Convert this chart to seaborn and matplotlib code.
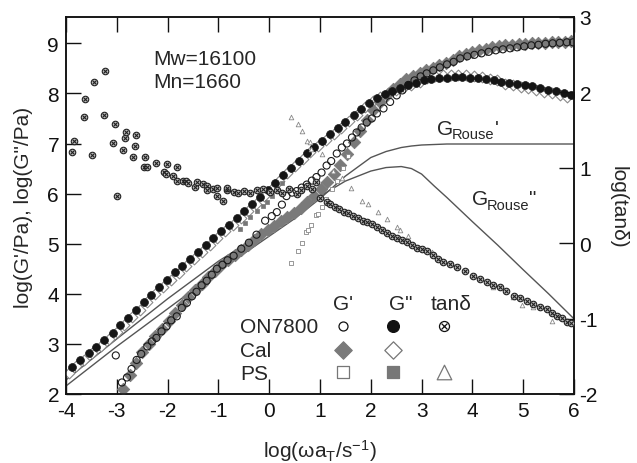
import matplotlib
matplotlib.use("Agg")
import matplotlib.pyplot as plt
import seaborn as sns

# ---------------- data ----------------
# ON7800 G'' (filled black circles)
on_g2_x = [-3.88,-3.72,-3.55,-3.40,-3.25,-3.08,-2.93,-2.78,-2.62,-2.47,-2.32,-2.17,-2.02,-1.86,-1.71,-1.56,-1.40,-1.25,-1.10,-0.95,-0.80,-0.64,-0.49,-0.34,-0.18,-0.03,0.12,0.28,0.43,0.58,0.74,0.89,1.04,1.20,1.35,1.50,1.66,1.81,1.96,2.12,2.27,2.42,2.58,2.73,2.88,3.04,3.19,3.34,3.50,3.65,3.80,3.96,4.11,4.26,4.42,4.57,4.72,4.88,5.03,5.18,5.34,5.49,5.64,5.80,5.95]
on_g2_y = [2.54,2.67,2.81,2.94,3.07,3.22,3.37,3.52,3.68,3.83,3.98,4.13,4.28,4.43,4.56,4.70,4.84,4.98,5.11,5.25,5.38,5.52,5.66,5.80,5.94,6.07,6.22,6.38,6.52,6.66,6.81,6.93,7.05,7.18,7.30,7.42,7.56,7.69,7.80,7.90,7.98,8.05,8.11,8.16,8.21,8.26,8.28,8.30,8.31,8.32,8.32,8.31,8.30,8.28,8.26,8.23,8.21,8.19,8.17,8.14,8.10,8.07,8.04,8.01,7.97]

# ON7800 G' (open circles)
on_g1_x = [-3.02,-2.90,-2.80,-2.71,-2.61,-2.52,-2.40,-2.31,-2.22,-2.12,-2.02,-1.93,-1.82,-1.72,-1.62,-1.52,-1.43,-1.33,-1.23,-1.13,-1.03,-0.92,-0.82,-0.70,-0.55,-0.40,-0.25,-0.08,0.05,0.15,0.25,0.34,0.45,0.54,0.64,0.74,0.84,0.93,1.03,1.13,1.22,1.33,1.43,1.53,1.63,1.72,1.82,1.92,2.02,2.12,2.25,2.38,2.51,2.62,2.74,2.86,2.98,3.10,3.23,3.36,3.50,3.63,3.76,3.90,4.04,4.18,4.32,4.46,4.60,4.74,4.88,5.02,5.16,5.30,5.44,5.58,5.72,5.86,5.98]
on_g1_y = [2.77,2.23,2.33,2.50,2.68,2.80,2.95,3.05,3.12,3.25,3.35,3.47,3.55,3.72,3.82,3.95,4.04,4.17,4.26,4.38,4.50,4.58,4.67,4.76,4.90,5.02,5.18,5.46,5.55,5.63,5.78,5.95,6.02,6.05,6.12,6.18,6.26,6.33,6.42,6.56,6.65,6.80,6.92,7.00,7.12,7.22,7.32,7.42,7.50,7.60,7.70,7.83,7.96,8.06,8.17,8.26,8.34,8.40,8.46,8.52,8.58,8.63,8.70,8.74,8.77,8.80,8.83,8.86,8.88,8.90,8.92,8.94,8.96,8.97,8.99,9.00,9.01,9.02,9.02]

# Cal G' (filled grey diamonds)
cal_g1_x = [-2.87,-2.75,-2.62,-2.50,-2.37,-2.24,-2.11,-1.98,-1.85,-1.72,-1.59,-1.46,-1.33,-1.20,-1.07,-0.94,-0.81,-0.68,-0.55,-0.42,-0.29,-0.16,-0.03,0.10,0.23,0.36,0.49,0.62,0.75,0.88,1.01,1.14,1.27,1.40,1.53,1.66,1.79,1.92,2.05,2.18,2.31,2.44,2.57,2.70,2.83,2.96,3.09,3.22,3.35,3.48,3.61,3.74,3.87,4.00,4.13,4.26,4.39,4.52,4.65,4.78,4.91,5.04,5.17,5.30,5.43,5.56,5.69,5.82,5.95]
cal_g1_y = [2.10,2.38,2.62,2.84,3.00,3.15,3.30,3.46,3.62,3.78,3.93,4.07,4.20,4.33,4.46,4.57,4.68,4.78,4.88,4.98,5.08,5.19,5.28,5.36,5.45,5.53,5.62,5.72,5.84,5.96,6.10,6.24,6.40,6.58,6.80,7.02,7.25,7.46,7.66,7.82,7.96,8.08,8.19,8.28,8.35,8.41,8.46,8.51,8.56,8.61,8.67,8.74,8.79,8.83,8.86,8.89,8.92,8.94,8.96,8.97,8.98,8.99,9.00,9.01,9.01,9.02,9.03,9.03,9.04]

# Cal G'' (open diamonds)
cal_g2_x = [-3.95,-3.80,-3.64,-3.48,-3.32,-3.16,-3.00,-2.85,-2.70,-2.55,-2.40,-2.24,-2.09,-1.94,-1.78,-1.63,-1.48,-1.32,-1.17,-1.02,-0.87,-0.72,-0.56,-0.41,-0.26,-0.10,0.05,0.20,0.35,0.51,0.66,0.81,0.96,1.12,1.27,1.42,1.58,1.73,1.88,2.04,2.19,2.34,2.50,2.65,2.80,2.96,3.11,3.26,3.42,3.57,3.72,3.88,4.03,4.18,4.34,4.49,4.64,4.80,4.95,5.10,5.26,5.41,5.56,5.72,5.87]
cal_g2_y = [2.42,2.55,2.68,2.82,2.95,3.09,3.24,3.38,3.53,3.68,3.83,3.99,4.14,4.28,4.42,4.56,4.70,4.84,4.98,5.12,5.25,5.38,5.52,5.66,5.80,5.95,6.10,6.26,6.41,6.56,6.70,6.83,6.95,7.07,7.19,7.31,7.44,7.57,7.72,7.84,7.93,8.01,8.07,8.12,8.17,8.22,8.30,8.34,8.36,8.37,8.37,8.36,8.34,8.32,8.29,8.26,8.19,8.16,8.13,8.10,8.07,8.03,8.00,7.96,7.92]

# PS G' (small open squares) and PS G'' (small grey squares)
ps_g1_x = [0.43,0.57,0.64,0.72,0.77,0.82,0.92,0.97,1.03,1.11,1.23,1.33,1.45,1.55]
ps_g1_y = [4.62,4.86,5.01,5.23,5.27,5.37,5.57,5.59,5.74,5.89,6.09,6.25,6.52,6.75]
ps_g2_x = [-0.57,-0.47,-0.38,-0.25,-0.12,-0.04,0.06,0.15,0.26]
ps_g2_y = [5.29,5.42,5.53,5.65,5.75,5.83,5.95,6.09,6.22]

# tan(delta), right axis
on_tan_x = [-3.89,-3.84,-3.65,-3.63,-3.48,-3.45,-3.25,-3.23,-3.08,-3.04,-3.00,-2.88,-2.83,-2.81,-2.69,-2.64,-2.62,-2.47,-2.45,-2.41,-2.23,-2.08,-2.04,-2.02,-1.89,-1.82,-1.82,-1.69,-1.64,-1.60,-1.47,-1.43,-1.30,-1.23,-1.23,-1.10,-1.03,-1.03,-0.90,-0.84,-0.83,-0.70,-0.61,-0.50,-0.38,-0.25,-0.12,0.02,0.15,0.25,0.38,0.54,0.62,0.74,0.85,0.93,1.00,1.13,1.20,1.29,1.38,1.47,1.56,1.65,1.75,1.84,1.92,2.02,2.12,2.22,2.31,2.41,2.51,2.61,2.71,2.81,2.91,3.01,3.10,3.22,3.33,3.43,3.56,3.69,3.85,4.02,4.15,4.28,4.41,4.54,4.67,4.81,4.94,5.07,5.20,5.33,5.46,5.56,5.66,5.76,5.86,5.95]
on_tan_y = [1.21,1.36,1.67,1.91,1.17,2.14,1.70,2.28,1.33,1.58,0.63,1.24,1.40,1.47,1.14,1.29,1.43,1.01,1.14,1.01,1.06,0.94,0.92,1.05,0.89,1.01,0.82,0.83,0.83,0.80,0.74,0.81,0.78,0.76,0.70,0.72,0.63,0.73,0.56,0.70,0.73,0.68,0.67,0.69,0.66,0.70,0.72,0.68,0.70,0.66,0.72,0.65,0.70,0.76,0.72,0.81,0.60,0.54,0.52,0.48,0.45,0.42,0.40,0.36,0.33,0.30,0.28,0.25,0.22,0.18,0.14,0.10,0.07,0.04,0.01,-0.02,-0.06,-0.08,-0.10,-0.15,-0.21,-0.25,-0.28,-0.32,-0.37,-0.43,-0.48,-0.52,-0.55,-0.58,-0.64,-0.70,-0.73,-0.76,-0.81,-0.84,-0.87,-0.92,-0.96,-0.99,-1.05,-1.06]
ps_tan_x = [0.43,0.57,0.64,0.75,0.80,0.82,1.03,1.26,1.43,1.62,1.82,1.95,2.15,2.31,2.51,2.57,2.74,3.20,3.60,4.00,4.40,4.80,4.97,5.20,5.56,5.90]
ps_tan_y = [1.67,1.58,1.49,1.36,1.34,1.25,1.18,0.96,0.87,0.73,0.56,0.52,0.41,0.32,0.21,0.17,0.10,-0.12,-0.28,-0.42,-0.58,-0.72,-0.82,-0.85,-1.03,-1.05]

# Rouse model curves
rouse_x = [-4.0,-3.0,-2.0,-1.0,-0.5,0.0,0.5,1.0,1.5,2.0,2.3,2.6,2.8,3.0,3.25,3.5,4.0,4.5,5.0,5.5,6.0]
rouse_g1 = [2.16,2.95,3.70,4.45,4.80,5.15,5.50,5.90,6.35,6.72,6.84,6.92,6.95,6.97,6.98,6.99,6.99,6.99,6.99,6.99,6.99]
rouse_g2 = [2.28,3.10,3.90,4.65,4.97,5.30,5.62,5.95,6.25,6.45,6.52,6.54,6.50,6.39,6.15,5.92,5.44,4.97,4.48,4.00,3.50]

xticks = [-4,-3,-2,-1,0,1,2,3,4,5,6]
yticks_left = [2,3,4,5,6,7,8,9]
yticks_right = [-2,-1,0,1,2,3]

# ---------------- style ----------------
sns.set_style("ticks")
plt.rcParams['font.family'] = ['Liberation Sans', 'DejaVu Sans']
plt.rcParams['mathtext.fontset'] = 'custom'
plt.rcParams['mathtext.rm'] = 'Liberation Sans'
plt.rcParams['mathtext.it'] = 'Liberation Sans:italic'
plt.rcParams['axes.unicode_minus'] = False

W, H = 637, 464
fig = plt.figure(figsize=(W/100, H/100), dpi=100)
L, R, T, B = 66, 574, 18, 395
ax = fig.add_axes([L/W, 1-B/H, (R-L)/W, (B-T)/H])
ax2 = ax.twinx()

def scat(axis, x, y, marker, s, fc, ec, lw, z):
    sns.scatterplot(x=x, y=y, ax=axis, marker=marker, s=s, linewidth=lw, legend=False, zorder=z)
    c = axis.collections[-1]
    c.set_facecolor(fc)
    c.set_edgecolor(ec)
    c.set_linewidth(lw)

GRAY = '#7a7a7a'
# Rouse lines
sns.lineplot(x=rouse_x, y=rouse_g1, ax=ax, color='#555555', linewidth=1.0, zorder=2)
sns.lineplot(x=rouse_x, y=rouse_g2, ax=ax, color='#555555', linewidth=1.0, zorder=2)

scat(ax, cal_g2_x, cal_g2_y, 'D', 30, 'white', '#8a8a8a', 0.8, 3)
scat(ax, cal_g1_x, cal_g1_y, 'D', 40, GRAY, GRAY, 0.6, 3)
scat(ax, on_g1_x, on_g1_y, 'o', 26, 'none', '#1a1a1a', 0.8, 4)
scat(ax, on_g2_x, on_g2_y, 'o', 32, '#151515', '#151515', 0.5, 5)
scat(ax, ps_g1_x, ps_g1_y, 's', 8, 'white', '#888888', 0.6, 4)
scat(ax, ps_g2_x, ps_g2_y, 's', 9, '#777777', '#777777', 0.5, 4)

scat(ax2, ps_tan_x, ps_tan_y, '^', 11, 'white', '#888888', 0.6, 3)
scat(ax2, on_tan_x, on_tan_y, 'o', 22, '#bbbbbb', '#222222', 0.8, 4)
scat(ax2, on_tan_x, on_tan_y, 'x', 7, '#222222', '#222222', 0.8, 5)

ax.set_xlim(-4, 6)
ax.set_ylim(2, 9.525)
ax2.set_ylim(-2, 3)
ax.set_xticks(xticks)
ax.set_xticklabels([str(v) for v in xticks])
ax.set_yticks(yticks_left)
ax.set_yticklabels([str(v) for v in yticks_left])
ax2.set_yticks(yticks_right)
ax2.set_yticklabels([str(v) for v in yticks_right])

tl = 10.8
ax.tick_params(axis='x', direction='in', length=tl, width=1.0, top=True, bottom=True,
               labelsize=15, pad=5, colors='#111111')
ax.tick_params(axis='y', direction='in', length=tl, width=1.0, left=True, right=False,
               labelsize=15, pad=5, colors='#111111')
ax2.tick_params(axis='y', direction='in', length=tl, width=1.0, right=True, left=False,
                labelsize=15, pad=4, colors='#111111')
for a in (ax, ax2):
    for sp in a.spines.values():
        sp.set_visible(True)
        sp.set_linewidth(1.1)
        sp.set_color('#111111')
ax.set_xlabel('')
ax.set_ylabel('')
ax2.set_ylabel('')

def fx(px):
    return px / W

def fy(py):
    return 1 - py / H

fs = 15
fig.text(fx(320), fy(458), 'log(ωa$_\\mathrm{T}$/s$^{-1}$)', ha='center', va='baseline', fontsize=fs)
fig.text(fx(24), fy(207), 'log(G\'/Pa), log(G"/Pa)', ha='center', va='center', rotation=90, fontsize=fs)
fig.text(fx(618), fy(207), 'log(tanδ)', ha='center', va='center', rotation=270, fontsize=fs)

fig.text(fx(153), fy(65), 'Mw=16100', ha='left', va='baseline', fontsize=fs)
fig.text(fx(153), fy(88), 'Mn=1660', ha='left', va='baseline', fontsize=fs)

# G_Rouse labels
fig.text(fx(436.7), fy(135), 'G', ha='left', va='baseline', fontsize=fs)
fig.text(fx(451.7), fy(139.5), 'Rouse', ha='left', va='baseline', fontsize=10.5)
fig.text(fx(494.5), fy(135), "'", ha='left', va='baseline', fontsize=fs)
fig.text(fx(471.7), fy(205), 'G', ha='left', va='baseline', fontsize=fs)
fig.text(fx(486.7), fy(209.5), 'Rouse', ha='left', va='baseline', fontsize=10.5)
fig.text(fx(529.5), fy(205), '"', ha='left', va='baseline', fontsize=fs)

# legend table
fig.text(fx(333), fy(310), "G'", ha='left', va='baseline', fontsize=fs)
fig.text(fx(389), fy(310), 'G"', ha='left', va='baseline', fontsize=fs)
fig.text(fx(431), fy(310), 'tanδ', ha='left', va='baseline', fontsize=fs)
fig.text(fx(240), fy(333.3), 'ON7800', ha='left', va='baseline', fontsize=fs)
fig.text(fx(240), fy(356.7), 'Cal', ha='left', va='baseline', fontsize=fs)
fig.text(fx(240), fy(380.5), 'PS', ha='left', va='baseline', fontsize=fs)

def ax_frac(px, py):
    return (px - L) / (R - L), (B - py) / (B - T)

c1, c2, c3 = 343.3, 392.7, 444.3
r1, r2, r3 = 326.7, 350.7, 373.3
def lg(px, py, marker, s, fc, ec, lw):
    xx, yy = ax_frac(px, py)
    ax2.scatter([xx], [yy], transform=ax.transAxes, marker=marker, s=s, facecolors=fc,
                edgecolors=ec, linewidths=lw, clip_on=False, zorder=6)

lg(c1, r1, 'o', 42, 'white', '#111111', 0.9)
lg(c2, r1, 'o', 72, '#111111', '#111111', 0.9)
lg(c3, r1, 'o', 52, 'white', '#111111', 0.9)
lg(c3, r1, 'x', 18, '#111111', '#111111', 0.9)
lg(c1, r2, 'D', 80, GRAY, GRAY, 0.8)
lg(c2, r2, 'D', 78, 'white', '#777777', 0.9)
lg(c1, r3, 's', 85, 'white', '#777777', 0.9)
lg(c2, r3, 's', 85, '#777777', '#777777', 0.9)
lg(c3, r3, '^', 110, 'white', '#777777', 0.9)

fig.savefig('out.png', dpi=100)
